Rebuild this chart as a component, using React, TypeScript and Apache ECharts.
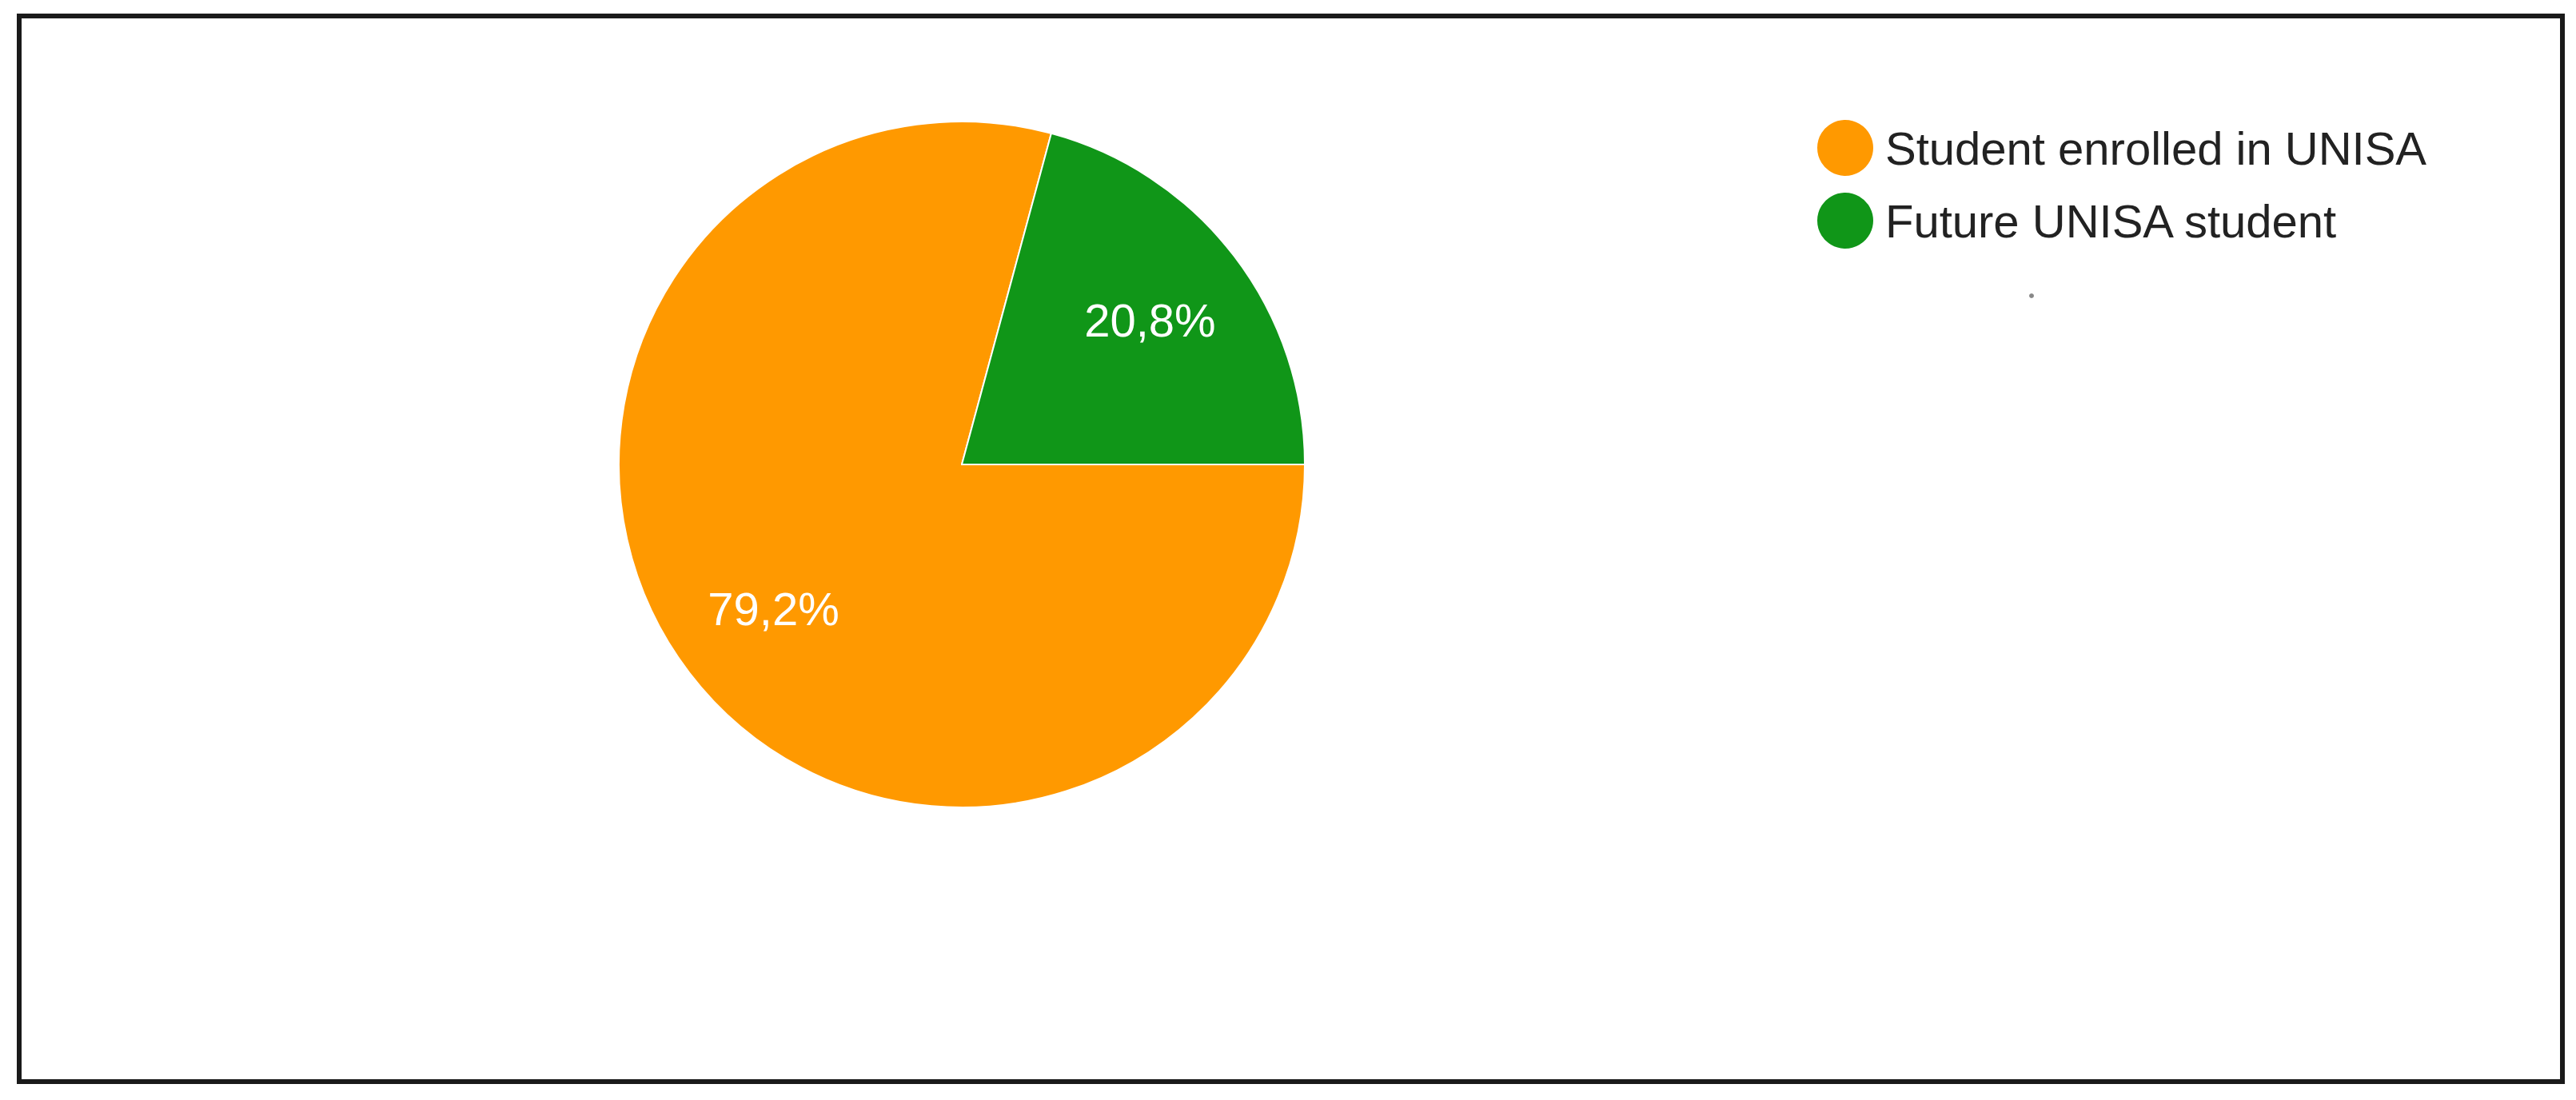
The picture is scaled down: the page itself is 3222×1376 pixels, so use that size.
import React, { useEffect, useRef } from "react";
import * as echarts from "echarts";

const categories = ["Student enrolled in UNISA", "Future UNISA student"];
const shares = [79.2, 20.8];
const sliceColors = ["#FF9900", "#109618"];

const FONT = 'Arial, "Liberation Sans", sans-serif';

export default function App() {
  const ref = useRef<HTMLDivElement | null>(null);

  useEffect(() => {
    document.body.style.margin = "0";
    if (!ref.current) return;
    const chart = echarts.init(ref.current, undefined, { renderer: "svg" });
    const data = categories.map((name, i) => ({
      name,
      value: shares[i],
      itemStyle: { color: sliceColors[i] },
    }));
    const fmt = (p: any) => p.percent.toFixed(1).replace(".", ",") + "%";
    chart.setOption({
      animation: false,
      backgroundColor: "#ffffff",
      legend: {
        orient: "vertical",
        left: 2266,
        top: 143,
        icon: "circle",
        itemWidth: 72,
        itemHeight: 72,
        itemGap: 17,
        selectedMode: false,
        data: categories.map((name, i) => ({
          name,
          itemStyle: { color: sliceColors[i] },
        })),
        textStyle: {
          fontFamily: FONT,
          fontSize: 58,
          color: "#222222",
          padding: [0, 0, 0, 9],
          lineHeight: 72,
        },
      },
      graphic: [
        {
          type: "rect",
          shape: { x: 24, y: 20, width: 3181, height: 1333 },
          style: { fill: "none", stroke: "#1a1a1a", lineWidth: 6 },
          silent: true,
        },
        {
          type: "circle",
          shape: { cx: 2541, cy: 370, r: 3 },
          style: { fill: "#888888" },
          silent: true,
        },
      ],
      series: [
        {
          type: "pie",
          center: [1203, 581],
          radius: [0, 429],
          startAngle: 0,
          clockwise: true,
          label: { show: false },
          labelLine: { show: false },
          itemStyle: { borderColor: "#ffffff", borderWidth: 2 },
          emphasis: { disabled: true },
          data,
        },
        {
          type: "pie",
          center: [1203, 581],
          radius: [158, 429],
          startAngle: 0,
          clockwise: true,
          silent: true,
          legendHoverLink: false,
          itemStyle: { color: "rgba(0,0,0,0)", borderWidth: 0 },
          labelLine: { show: false },
          label: {
            show: true,
            position: "inside",
            formatter: fmt,
            fontFamily: FONT,
            fontSize: 58,
            color: "#ffffff",
          },
          emphasis: { disabled: true },
          data: categories.map((name, i) => ({
            name,
            value: shares[i],
            itemStyle: { color: "rgba(0,0,0,0)" },
          })),
        },
      ],
    });
    return () => chart.dispose();
  }, []);

  return <div ref={ref} style={{ width: 3222, height: 1376 }} />;
}
